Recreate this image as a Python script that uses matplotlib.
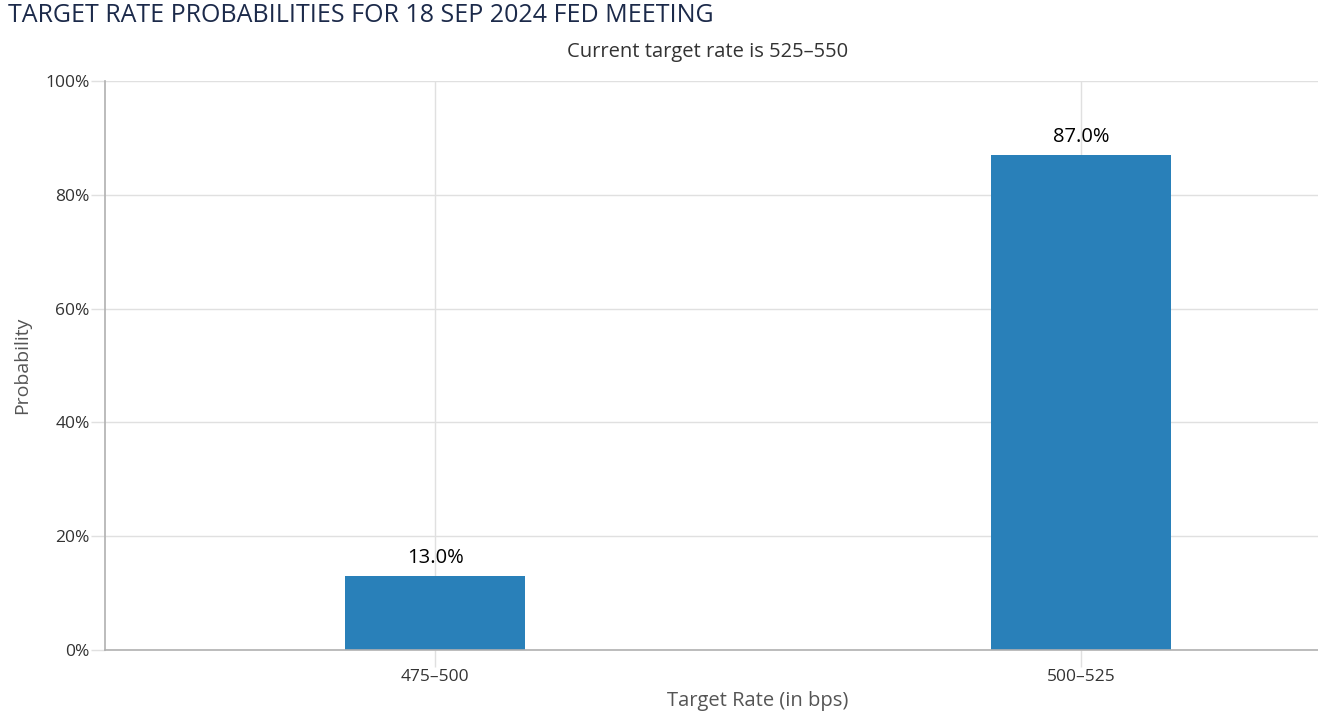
import matplotlib
matplotlib.use("Agg")
import matplotlib.pyplot as plt
from matplotlib.ticker import FuncFormatter

# --- data ---------------------------------------------------------------
rates = ["475\u2013500", "500\u2013525"]
probs = [13.0, 87.0]
yticks = [0, 20, 40, 60, 80, 100]

title = "TARGET RATE PROBABILITIES FOR 18 SEP 2024 FED MEETING"
subtitle = "Current target rate is 525\u2013550"

plt.rcParams["font.family"] = ["Open Sans", "DejaVu Sans"]

W, H = 1318, 727
fig = plt.figure(figsize=(W / 100, H / 100), dpi=100)
# axes box in pixels: left 105, right 1318, top 81, bottom 650
ax = fig.add_axes([105 / W, 1 - 650 / H, (1318 - 105) / W, (650 - 81) / H])

x = list(range(len(rates)))
ax.bar(x, probs, width=0.28, color="#2980b9", zorder=3)
for xi, p in zip(x, probs):
    ax.annotate(f"{p:.1f}%", (xi, p), xytext=(0, 6), textcoords="offset points",
                ha="center", va="bottom", fontsize=14.5, color="black", zorder=4)

ax.set_xlim(-0.511, 1.367)
ax.set_ylim(0, 100)
ax.set_xticks(x)
ax.set_xticklabels(rates)
ax.set_yticks(yticks)
ax.yaxis.set_major_formatter(FuncFormatter(lambda v, _: f"{v:.0f}%"))

ax.grid(True, color="#e0e0e0", lw=1.0, zorder=0)
for s in ("top", "right"):
    ax.spines[s].set_visible(False)
for s in ("left", "bottom"):
    ax.spines[s].set_color("#b0b0b0")
    ax.spines[s].set_linewidth(1.2)
    ax.spines[s].set_zorder(5)

ax.tick_params(axis="y", length=10, color="#e0e0e0", width=1.0, pad=1,
               labelsize=12.5, labelcolor="#333333")
ax.tick_params(axis="x", length=12, color="#e0e0e0", width=1.0, pad=2,
               labelsize=12.5, labelcolor="#333333")

fig.text(8 / W, 1 - 16 / H, title, ha="left", va="center",
         fontsize=18, color="#1c2a4a")
fig.text(708 / W, 1 - 52 / H, subtitle, ha="center", va="center",
         fontsize=14.5, color="#333333")
fig.text(22 / W, 1 - 365 / H, "Probability", rotation=90, ha="center",
         va="center", fontsize=14, color="#555555")
fig.text(758 / W, 1 - 701 / H, "Target Rate (in bps)", ha="center",
         va="center", fontsize=14.5, color="#555555")

fig.savefig("out.png", dpi=100)
